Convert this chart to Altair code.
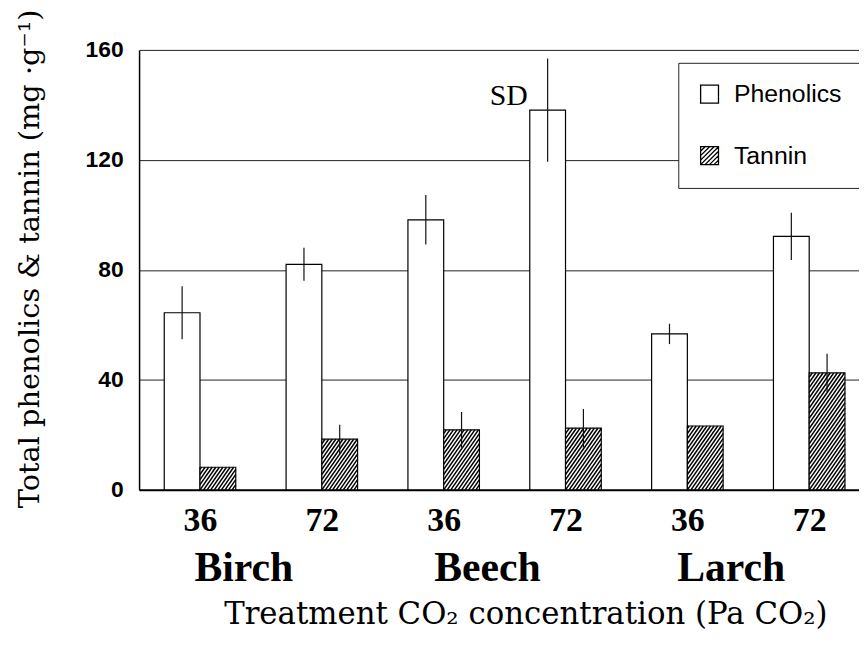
import json
import altair as alt
import pandas as pd

# ---------------- data ----------------
species = ["Birch", "Birch", "Beech", "Beech", "Larch", "Larch"]
co2 = ["36", "72", "36", "72", "36", "72"]
phenolics = [64.4, 82.0, 98.2, 138.1, 56.7, 92.2]
phenolics_sd = [9.6, 6.0, 9.0, 18.8, 3.7, 8.6]
tannin = [8.2, 18.4, 21.8, 22.4, 23.2, 42.5]
tannin_sd = [0.0, 5.3, 6.5, 7.0, 0.0, 7.0]
series_names = ["Phenolics", "Tannin"]
y_ticks = [0, 40, 80, 120, 160]
sd_label = "SD"
sd_label_index = 3  # the bar whose error bar is annotated

# ---------------- layout / style constants ----------------
W, H = 725, 443
STEP = 122.7              # px per category
XMAX = W / STEP
PXY = H / 160.0           # px per y unit
BW = 36 / STEP            # bar width in category units
S = 1.43                  # hatch slope
SP = 3.6                  # hatch horizontal spacing (px)
SERIF = "Liberation Serif"
SERIF2 = "DejaVu Serif"
SANS = "Liberation Sans"

df = pd.DataFrame({
    "idx": list(range(len(species))),
    "species": species,
    "co2": co2,
    "phen": phenolics,
    "phen_sd": phenolics_sd,
    "tan": tannin,
    "tan_sd": tannin_sd,
})

sp_df = (df.groupby("species", sort=False)["idx"].mean() + 0.5).reset_index()
sp_df.columns = ["species", "center"]

xs = alt.Scale(domain=[0, XMAX], nice=False, zero=False)
ys = alt.Scale(domain=[0, 160], nice=False)

label_expr = f"{json.dumps(co2)}[round(datum.value - 0.5)]"

x_axis = alt.Axis(
    values=[i + 0.5 for i in range(len(co2))], labelExpr=label_expr,
    ticks=False, grid=False, domainColor="black", domainWidth=2,
    labelFont=SERIF, labelFontWeight="bold", labelFontSize=34, labelColor="black",
    labelPadding=14, labelFlush=False, labelOverlap=False, labelBound=False,
    title="Treatment CO\u2082 concentration (Pa CO\u2082)",
    titleFont=SERIF2, titleFontSize=31, titleFontWeight="normal", titleColor="black",
    titleX=389, titleY=135, titleAlign="center", titleBaseline="alphabetic",
)
y_axis = alt.Axis(
    values=y_ticks, format="d", ticks=False, grid=True, gridColor="#222", gridWidth=1,
    domainColor="black", domainWidth=1.5,
    labelFont=SANS, labelFontWeight="bold", labelFontSize=23, labelColor="black",
    labelPadding=16, labelFlush=False,
    title="Total phenolics & tannin (mg \u00b7g\u207b\u00b9)",
    titleFont=SERIF2, titleFontSize=29, titleFontWeight="normal", titleColor="black",
    titleX=-101, titleY=210, titleAngle=270, titleAlign="center", titleBaseline="alphabetic",
)


def X(field):
    return alt.X(field, scale=xs, axis=x_axis)


def Y(field):
    return alt.Y(field, scale=ys, axis=y_axis)


base = alt.Chart(df)

phen_bars = base.transform_calculate(
    x0=f"datum.idx + 0.5 - {BW}", x1="datum.idx + 0.5", zero="0"
).mark_rect(fill="white", stroke="black", strokeWidth=1.2).encode(
    x=X("x0:Q"), x2="x1:Q", y=Y("phen:Q"), y2="zero:Q",
)

tan_bg = base.transform_calculate(
    x0="datum.idx + 0.5", x1=f"datum.idx + 0.5 + {BW}", zero="0"
).mark_rect(fill="white", strokeWidth=0).encode(
    x=X("x0:Q"), x2="x1:Q", y=Y("tan:Q"), y2="zero:Q",
)

hatch = base.transform_calculate(
    k="sequence(0, 80)"
).transform_flatten(["k"]).transform_calculate(
    wpx=str(BW * STEP),
    hpx=f"datum.tan * {PXY}",
    u0=f"{BW * STEP} - datum.k * {SP}",
).transform_calculate(
    us="max(0, datum.u0)",
    ue=f"min(datum.wpx, datum.u0 + datum.hpx / {S})",
).transform_filter("datum.ue > datum.us").transform_calculate(
    hx=f"datum.idx + 0.5 + datum.us / {STEP}",
    hx2=f"datum.idx + 0.5 + datum.ue / {STEP}",
    hy=f"{S} * (datum.us - datum.u0) / {PXY}",
    hy2=f"{S} * (datum.ue - datum.u0) / {PXY}",
).mark_rule(color="black", strokeWidth=1.5).encode(
    x=X("hx:Q"), x2="hx2:Q", y=Y("hy:Q"), y2="hy2:Q",
)

tan_outline = base.transform_calculate(
    x0="datum.idx + 0.5", x1=f"datum.idx + 0.5 + {BW}", zero="0"
).mark_rect(fillOpacity=0, stroke="black", strokeWidth=1.2).encode(
    x=X("x0:Q"), x2="x1:Q", y=Y("tan:Q"), y2="zero:Q",
)

phen_err = base.transform_calculate(
    xc=f"datum.idx + 0.5 - {BW / 2}",
    lo="datum.phen - datum.phen_sd", hi="datum.phen + datum.phen_sd",
).transform_filter("datum.phen_sd > 0").mark_rule(color="#111", strokeWidth=1.2).encode(
    x=X("xc:Q"), y=Y("lo:Q"), y2="hi:Q",
)

tan_err = base.transform_calculate(
    xc=f"datum.idx + 0.5 + {BW / 2}",
    lo="datum.tan - datum.tan_sd", hi="datum.tan + datum.tan_sd",
).transform_filter("datum.tan_sd > 0").mark_rule(color="#111", strokeWidth=1.2).encode(
    x=X("xc:Q"), y=Y("lo:Q"), y2="hi:Q",
)

sd_text = base.transform_filter(f"datum.idx == {sd_label_index}").transform_calculate(
    xl=f"datum.idx + 0.5 - {BW}", lab=f"'{sd_label}'"
).mark_text(font=SERIF, fontSize=30, align="right", baseline="alphabetic",
            dx=-2, dy=-5, color="black").encode(
    x=X("xl:Q"), y=Y("phen:Q"), text="lab:N",
)

species_text = alt.Chart(sp_df).transform_calculate(
    xc="datum.center - 0.14"
).mark_text(font=SERIF, fontWeight="bold", fontSize=42, baseline="alphabetic",
            align="center", color="black").encode(
    x=X("xc:Q"), y=alt.value(H + 92), text="species:N",
)

HATCH = ("M-1,-1H1V1H-1Z M-1,-0.5L-0.5,-1 M-1,0L0,-1 M-1,0.5L0.5,-1 "
         "M-1,1L1,-1 M-0.5,1L1,-0.5 M0,1L1,0 M0.5,1L1,0.5")
legend_df = pd.DataFrame({"series": series_names})
legend_layer = alt.Chart(legend_df).mark_point(
    filled=False, color="black", strokeWidth=1.3
).encode(
    x=alt.value(-500), y=alt.value(-500),
    shape=alt.Shape(
        "series:N",
        scale=alt.Scale(domain=series_names, range=["square", HATCH]),
        legend=alt.Legend(
            title=None, orient="none", legendX=543, legendY=13, padding=19,
            strokeColor="#222", fillColor="white",
            labelFont=SANS, labelFontSize=25, labelColor="black", labelOffset=12,
            symbolSize=324, symbolStrokeWidth=1.3, symbolStrokeColor="black",
            symbolOpacity=1, rowPadding=36,
        ),
    ),
)

chart = alt.layer(
    phen_bars, tan_bg, hatch, tan_outline, phen_err, tan_err,
    sd_text, species_text, legend_layer,
).properties(
    width=W, height=H,
    padding={"left": 132, "top": 40, "right": 0, "bottom": 141},
    autosize=alt.AutoSizeParams(type="none"),
).configure_view(strokeWidth=0)

chart.save("out.html", embed_options={"renderer": "svg", "actions": False})
